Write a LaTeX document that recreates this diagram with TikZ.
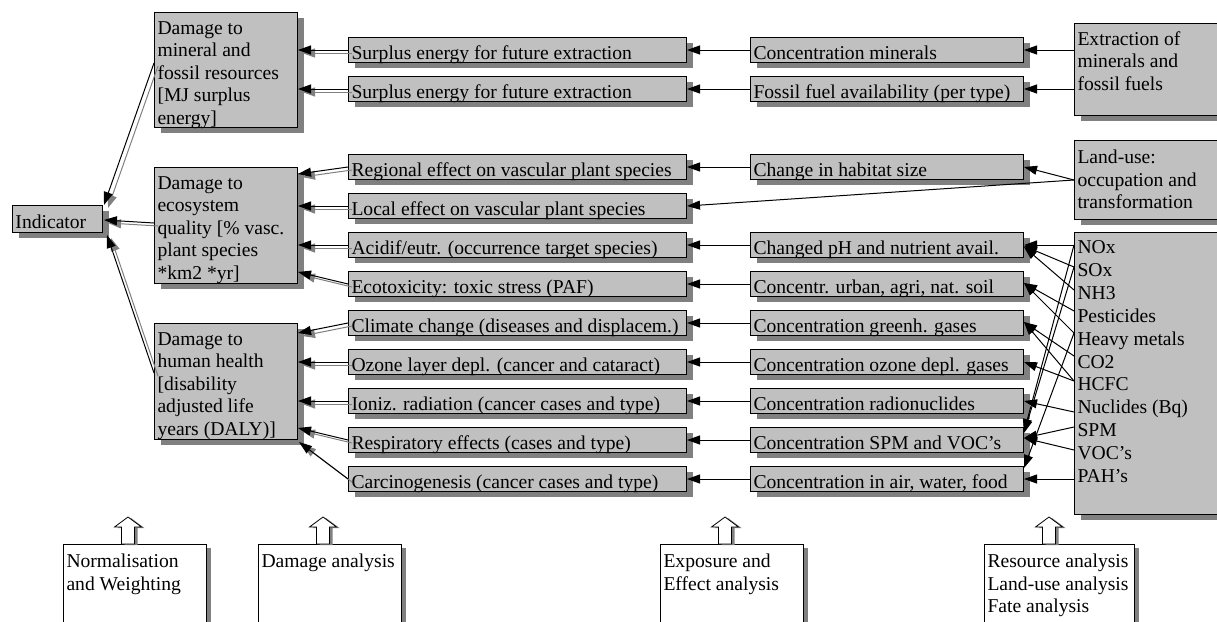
\documentclass[tikz,border=0pt]{standalone}
\usepackage{fontspec}
\setmainfont{Liberation Serif}
\usetikzlibrary{arrows.meta,shadows,calc}
\definecolor{boxgray}{RGB}{192,192,192}
\definecolor{shadowgray}{RGB}{128,128,128}
\newcommand{\bt}[4][21.5]{\parbox[c][#3pt][t]{\dimexpr#2pt-6pt\relax}{\fontsize{19.6}{22.6}\selectfont\raggedright\rule{0pt}{#1pt}#4}}
\newcommand{\bts}[3]{\parbox[c][#2pt][t]{\dimexpr#1pt-6pt\relax}{\fontsize{19.6}{22.9}\selectfont\raggedright\rule{0pt}{21pt}#3}}
\begin{document}
\begin{tikzpicture}[x=1pt,y=-1pt,line width=1pt,
  box/.style={draw=black,fill=boxgray,inner ysep=0pt,inner xsep=3pt,anchor=north west,
    drop shadow={shadow xshift=6pt,shadow yshift=-5pt,fill=shadowgray,opacity=1}},
  wbox/.style={draw=black,fill=white,inner ysep=0pt,inner xsep=3pt,anchor=north west,
    drop shadow={shadow xshift=4pt,shadow yshift=-3pt,fill=shadowgray,opacity=1}},
  arr/.style={-{Triangle[length=13pt,width=9pt]}},
  dbl/.style={arr,preaction={draw=shadowgray,transform canvas={shift={(4pt,-3pt)}}}},
  blk/.style={draw=black,fill=white,line width=0.8pt,
    drop shadow={shadow xshift=3pt,shadow yshift=-1pt,fill=shadowgray,opacity=1}}]
\useasboundingbox (0,0) rectangle (1217,621);
\clip (0,0) rectangle (1217,621);

% indicator and damage boxes
\node[box] (ind) at (12,205) {\bt[23]{90}{27}{Indicator}};
\node[box] (d1) at (154,12) {\bt{143}{115}{Damage to\\mineral and\\fossil resources\\{}[MJ surplus\\energy]}};
\node[box] (d2) at (154,167) {\bt{143}{116}{Damage to\\ecosystem\\quality [\% vasc.\\plant species\\{}*km2 *yr]}};
\node[box] (d3) at (154,323) {\bt{143}{116}{Damage to\\human health\\{}[disability\\adjusted life\\years (DALY)]}};

% effect boxes
\node[box] (e1) at (348,37) {\bt{338}{25}{Surplus energy for future extraction}};
\node[box] (e2) at (348,76) {\bt{338}{25}{Surplus energy for future extraction}};
\node[box] (e3) at (348,154) {\bt{338}{25}{Regional effect on vascular plant species}};
\node[box] (e4) at (348,193) {\bt{338}{25}{Local effect on vascular plant species}};
\node[box] (e5) at (348,232) {\bt{338}{25}{Acidif/eutr. (occurrence target species)}};
\node[box] (e6) at (348,271) {\bt{338}{25}{Ecotoxicity: toxic stress (PAF)}};
\node[box] (e7) at (348,310) {\bt{338}{25}{Climate change (diseases and displacem.)}};
\node[box] (e8) at (348,349) {\bt{338}{25}{Ozone layer depl. (cancer and cataract)}};
\node[box] (e9) at (348,388) {\bt{338}{25}{Ioniz. radiation (cancer cases and type)}};
\node[box] (e10) at (348,427) {\bt{338}{25}{Respiratory effects (cases and type)}};
\node[box] (e11) at (348,466) {\bt{338}{25}{Carcinogenesis (cancer cases and type)}};

% fate boxes
\node[box] (f1) at (750,37) {\bt{273}{25}{Concentration minerals}};
\node[box] (f2) at (750,76) {\bt{273}{25}{Fossil fuel availability (per type)}};
\node[box] (f3) at (750,154) {\bt{273}{25}{Change in habitat size}};
\node[box] (f5) at (750,232) {\bt{273}{25}{Changed pH and nutrient avail.}};
\node[box] (f6) at (750,271) {\bt{273}{25}{Concentr. urban, agri, nat. soil}};
\node[box] (f7) at (750,310) {\bt{273}{25}{Concentration greenh. gases}};
\node[box] (f8) at (750,349) {\bt{273}{25}{Concentration ozone depl. gases}};
\node[box] (f9) at (750,388) {\bt{273}{25}{Concentration radionuclides}};
\node[box] (f10) at (750,427) {\bt{273}{25}{Concentration SPM and VOC's}};
\node[box] (f11) at (750,466) {\bt{273}{25}{Concentration in air, water, food}};

% source boxes
\node[box] (ext) at (1074,23) {\bt{143}{92}{Extraction of\\minerals and\\fossil fuels}};
\node[box] (land) at (1074,140) {\bt[23]{143}{79}{Land-use:\\occupation and\\transformation}};
\node[box] (subs) at (1074,232) {\bts{143}{282}{NOx\\SOx\\NH3\\Pesticides\\Heavy metals\\CO2\\HCFC\\Nuclides (Bq)\\SPM\\VOC's\\PAH's}};

% bottom boxes
\node[wbox] (b1) at (63,544) {\bt[23]{143}{100}{Normalisation\\and Weighting}};
\node[wbox] (b2) at (258,544) {\bt[23]{143}{100}{Damage analysis}};
\node[wbox] (b3) at (660,544) {\bt[23]{143}{100}{Exposure and\\Effect analysis}};
\node[wbox] (b4) at (984,544) {\bt[23]{150}{100}{Resource analysis\\Land-use analysis\\Fate analysis}};

% block arrows
\foreach \b in {b1,b2,b3,b4}{
  \draw[blk] ($(\b.north west)+(58.5,0)$) -- ++(0,-17) -- ++(-7,0) -- ++(13.5,-10)
    -- ++(13.5,10) -- ++(-7,0) -- ++(0,17) -- cycle;
}

% fate -> effect
\foreach \i in {1,2,3,5,6,7,8,9,10,11}{
  \draw[arr] (f\i.west) -- (e\i.east);
}

% sources -> fate
\draw[arr] (ext.west |- f1) -- (f1.east);
\draw[arr] (ext.west |- f2) -- (f2.east);
\coordinate (lu) at ($(land.north west)+(0,40)$);
\draw[arr] (lu) -- ($(f3.north east)+(0,13)$);
\draw[arr] (lu) -- (e4.east);

% substances -> fate
\coordinate (sSOx) at ($(subs.north west)+(0,35)$);
\coordinate (sNH3) at ($(subs.north west)+(0,58)$);
\coordinate (sPest) at ($(subs.north west)+(0,79)$);
\coordinate (sHM) at ($(subs.north west)+(0,101)$);
\coordinate (sCO2) at ($(subs.north west)+(0,124)$);
\coordinate (sHCFC) at ($(subs.north west)+(0,149)$);
\coordinate (sNucl) at ($(subs.north west)+(0,180)$);
\coordinate (sSPM) at ($(subs.north west)+(0,195)$);
\coordinate (sVOC) at ($(subs.north west)+(0,218)$);
\draw[arr] (subs.west |- f5) -- (f5.east);
\draw[arr] (sSOx) -- ($(f5.north east)+(0,14)$);
\draw[arr] (sNH3) -- ($(f5.north east)+(0,15)$);
\draw[arr] (sPest) -- ($(f6.north east)+(0,12)$);
\draw[arr] (sHM) -- ($(f6.north east)+(0,12)$);
\draw[arr] (sCO2) -- ($(f7.north east)+(0,12)$);
\draw[arr] (sHCFC) -- ($(f7.north east)+(0,12)$);
\draw[arr] (sHCFC) -- ($(f8.north east)+(0,13)$);
\draw[arr] (sNucl) -- ($(f9.north east)+(0,13)$);
\draw[arr] (sSPM) -- ($(f10.north east)+(0,11)$);
\draw[arr] (sVOC) -- ($(f10.north east)+(0,11)$);
\draw[arr] (subs.west |- f5) -- ($(f10.north east)+(0,5)$);
\draw[arr] (sSOx) -- ($(f10.north east)+(0,6)$);
\draw[arr] (sHM) -- ($(f11.north east)+(0,2)$);
\draw[arr] (subs.west |- f11) -- (f11.east);

% effect -> damage
\draw[dbl] (e1.west) -- (e1.west -| d1.east);
\draw[dbl] (e2.west) -- (e2.west -| d1.east);
\draw[dbl] (e3.west) -- ($(d2.north east)+(0,7)$);
\draw[dbl] (e4.west) -- (e4.west -| d2.east);
\draw[dbl] (e5.west) -- (e5.west -| d2.east);
\draw[dbl] (e6.west) -- ($(d2.north east)+(0,105)$);
\draw[dbl] (e7.west) -- ($(d3.north east)+(0,10)$);
\draw[dbl] (e8.west) -- (e8.west -| d3.east);
\draw[dbl] (e9.west) -- (e9.west -| d3.east);
\draw[dbl] (e10.west) -- ($(d3.north east)+(0,105)$);
\draw[dbl] (e11.west) -- ($(d3.south east)+(1,2)$);

% damage -> indicator
\draw[dbl] ($(d1.north west)+(0,51)$) -- ($(ind.north east)+(1,0)$);
\draw[dbl] ($(d2.north west)+(0,56)$) -- ($(ind.north east)+(1,15)$);
\draw[dbl] ($(d3.north west)+(0,50)$) -- ($(ind.south east)+(4,2)$);
\end{tikzpicture}
\end{document}
